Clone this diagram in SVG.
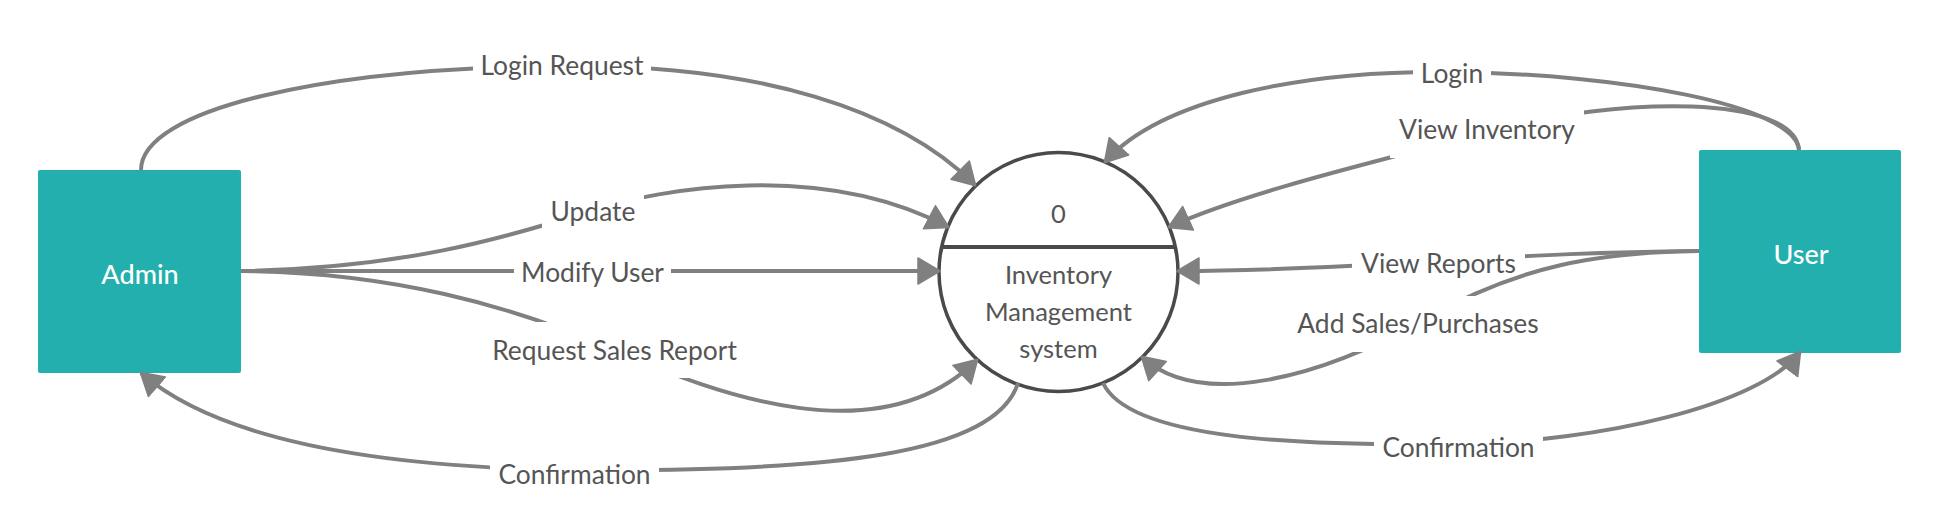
<svg xmlns="http://www.w3.org/2000/svg" width="1940" height="531" viewBox="0 0 1940 531">
<defs>
<style>
.ent{fill:#22AFAD;}
.entText{font-family:Lato,"Liberation Sans",sans-serif;font-size:27px;font-weight:500;fill:#ffffff;text-anchor:middle;}
.proc{fill:#ffffff;stroke:#4a4a4a;stroke-width:3.5;}
.div{stroke:#4a4a4a;stroke-width:4;}
.procText{font-family:Lato,"Liberation Sans",sans-serif;font-size:25.5px;fill:#555555;text-anchor:middle;}
.flow{fill:none;stroke:#808080;stroke-width:4;marker-end:url(#arr);}
.lblBox{fill:#ffffff;}
.lbl{font-family:Lato,"Liberation Sans",sans-serif;font-size:26.4px;fill:#555555;text-anchor:middle;}
</style>
<marker id="arr" viewBox="0 0 24 28" refX="22" refY="14" markerWidth="24" markerHeight="28" markerUnits="userSpaceOnUse" orient="auto">
<path d="M1,1 L23,14 L1,27 Z" fill="#808080" stroke="#808080" stroke-width="1.5" stroke-linejoin="round"/>
</marker>
</defs>
<rect width="1940" height="531" fill="#ffffff"/>

<g id="admin">
<rect class="ent" x="38" y="170" width="203" height="203" rx="2"/>
<text class="entText" x="140" y="284">Admin</text>
</g>

<g id="user">
<rect class="ent" x="1699" y="150" width="202" height="203" rx="2"/>
<text class="entText" x="1801" y="264">User</text>
</g>

<g id="process">
<circle class="proc" cx="1058.5" cy="272" r="119.5"/>
<line class="div" x1="941.6" y1="247" x2="1175.4" y2="247"/>
<text class="procText" x="1058.5" y="223">0</text>
<text class="procText" x="1058.5" y="284">Inventory</text>
<text class="procText" x="1058.5" y="321">Management</text>
<text class="procText" x="1058.5" y="358">system</text>
</g>

<g id="connectors">
<g id="c-login-request">
<path class="flow" d="M141,170 C141,110 320,68 562,66 C760,64 900,110 975,185"/>
<rect class="lblBox" x="473" y="37" width="178" height="56"/>
<text class="lbl" x="562" y="75">Login Request</text>
</g>
<g id="c-update">
<path class="flow" d="M241,271 C400,268 500,240 593,210 C660,189 820,160 948,227"/>
<rect class="lblBox" x="542" y="184" width="102" height="56"/>
<text class="lbl" x="593" y="221">Update</text>
</g>
<g id="c-modify-user">
<path class="flow" d="M241,271 L939,271"/>
<rect class="lblBox" x="514" y="245" width="157" height="56"/>
<text class="lbl" x="592.5" y="282">Modify User</text>
</g>
<g id="c-request-sales">
<path class="flow" d="M241,271 C390,272 510,305 614,350 C720,396 880,455 977,360"/>
<rect class="lblBox" x="484" y="322" width="261" height="56"/>
<text class="lbl" x="614.5" y="360">Request Sales Report</text>
</g>
<g id="c-confirmation-admin">
<path class="flow" d="M1018,383 C995,455 830,472 574,470 C420,468 230,450 141,373"/>
<rect class="lblBox" x="490" y="447" width="169" height="56"/>
<text class="lbl" x="574.5" y="484">Confirmation</text>
</g>
<g id="c-login">
<path class="flow" d="M1799,150 C1795,105 1620,74 1452,72 C1300,70 1160,100 1105,162"/>
<rect class="lblBox" x="1413" y="46" width="78" height="56"/>
<text class="lbl" x="1452" y="83">Login</text>
</g>
<g id="c-view-inventory">
<path class="flow" d="M1799,150 C1795,95 1620,95 1487,132 C1400,156 1250,190 1169,227"/>
<rect class="lblBox" x="1390" y="102" width="194" height="56"/>
<text class="lbl" x="1487" y="139">View Inventory</text>
</g>
<g id="c-view-reports">
<path class="flow" d="M1699,251 C1600,252 1540,255 1438,261 C1340,267 1250,271 1178,271"/>
<rect class="lblBox" x="1352" y="236" width="173" height="56"/>
<text class="lbl" x="1438.5" y="273">View Reports</text>
</g>
<g id="c-add-sales">
<path class="flow" d="M1699,251 C1600,252 1520,265 1423,320 C1320,378 1200,410 1142,357"/>
<rect class="lblBox" x="1288" y="296" width="260" height="56"/>
<text class="lbl" x="1418" y="333">Add Sales/Purchases</text>
</g>
<g id="c-confirmation-user">
<path class="flow" d="M1103,383 C1130,440 1300,446 1458,444 C1600,442 1760,405 1800,352"/>
<rect class="lblBox" x="1374" y="420" width="169" height="56"/>
<text class="lbl" x="1458.5" y="457">Confirmation</text>
</g>
</g>
</svg>
